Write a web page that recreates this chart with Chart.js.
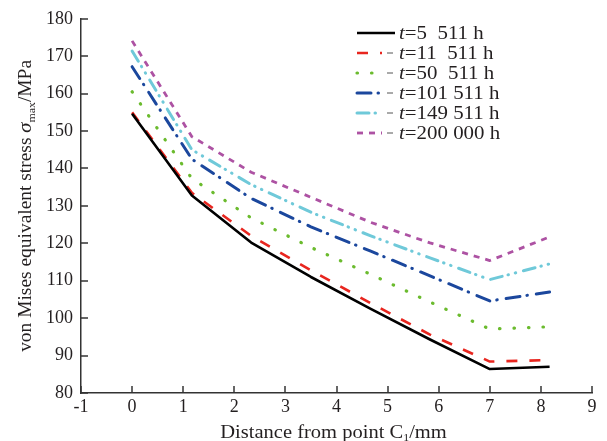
<!DOCTYPE html>
<html><head><meta charset="utf-8">
<script src="https://cdn.jsdelivr.net/npm/chart.js@4"></script>
<style>html,body{margin:0;padding:0;background:#fff;}#wrap{width:607px;height:441px;}</style>
</head><body><div id="wrap"><canvas id="c" width="607" height="441"></canvas></div>
<script>
// ---- data ----
const distances = [0, 1.17, 2.33, 3.5, 4.67, 5.83, 7, 8.17];
const seriesLabels = ["t=5  511 h", "t=11  511 h", "t=50  511 h", "t=101 511 h", "t=149 511 h", "t=200 000 h"];
const stress5511   = [154.6, 132.8, 120.2, 111.0, 102.5, 94.3, 86.4, 87.0];
const stress11511  = [155.0, 133.5, 122.0, 112.8, 104.0, 95.6, 88.4, 88.8];
const stress50511  = [160.5, 137.3, 126.8, 118.9, 111.7, 104.3, 97.1, 97.7];
const stress101511 = [167.2, 142.5, 132.0, 124.4, 117.9, 111.3, 104.6, 107.0];
const stress149511 = [171.4, 145.0, 135.7, 128.3, 122.0, 116.1, 110.3, 114.5];
const stress200000 = [174.1, 148.5, 139.0, 132.3, 125.6, 120.1, 115.4, 121.7];
const xTickMin = -1, xTickMax = 9, xTickStep = 1;
const yTickMin = 80, yTickMax = 180, yTickStep = 10;

const FONT = "'Liberation Serif','Times New Roman',serif";
const TXT = '#231f20';
const AX = '#333333';

const styles = [
  {color:'#000000', dash:[], width:2.6, cap:'butt'},
  {color:'#e8261f', dash:[11,12], width:2.6, cap:'butt'},
  {color:'#6bbb2e', dash:[0.5,14], width:3.2, cap:'round'},
  {color:'#1b479d', dash:[14,7,0.5,9], width:3, cap:'round'},
  {color:'#6fc9d9', dash:[12,6,0.5,7,0.5,8], width:3, cap:'round'},
  {color:'#ad52a3', dash:[6,6], width:2.8, cap:'butt'}
];
const allSeries = [stress5511, stress11511, stress50511, stress101511, stress149511, stress200000];

const datasets = allSeries.map((arr, i) => ({
  label: seriesLabels[i],
  data: arr.map((v, j) => ({x: distances[j], y: v})),
  borderColor: styles[i].color,
  borderDash: styles[i].dash,
  borderWidth: styles[i].width,
  borderCapStyle: styles[i].cap,
  borderJoinStyle: 'round',
  pointRadius: 0,
  tension: 0,
  fill: false
}));

function drawRuns(ctx, runs, x, y) {
  let cx = x;
  runs.forEach(r => {
    ctx.font = r.font;
    ctx.fillText(r.text, cx, y + (r.dy || 0));
    cx += ctx.measureText(r.text).width;
  });
}
function runsWidth(ctx, runs) {
  let w = 0;
  runs.forEach(r => { ctx.font = r.font; w += ctx.measureText(r.text).width; });
  return w;
}

const decor = {
  id: 'decor',
  afterDraw(chart) {
    const ctx = chart.ctx;
    const {left, right, top, bottom} = chart.chartArea;
    const xs = chart.scales.x, ys = chart.scales.y;
    ctx.save();
    // inward tick marks
    ctx.strokeStyle = AX; ctx.lineWidth = 1.5;
    xs.ticks.forEach(t => {
      const px = Math.round(xs.getPixelForValue(t.value));
      ctx.beginPath(); ctx.moveTo(px, bottom); ctx.lineTo(px, bottom - 7); ctx.stroke();
    });
    ys.ticks.forEach(t => {
      const py = Math.round(ys.getPixelForValue(t.value));
      ctx.beginPath(); ctx.moveTo(left, py); ctx.lineTo(left + 7, py); ctx.stroke();
    });
    ctx.fillStyle = TXT;
    ctx.textBaseline = 'alphabetic';
    // x title
    const xr = [
      {text:'Distance from point C', font:`19px ${FONT}`},
      {text:'1', font:`11px ${FONT}`, dy:3},
      {text:'/mm', font:`19px ${FONT}`}
    ];
    const xw = runsWidth(ctx, xr) * 1.08;
    ctx.save();
    ctx.translate((left + right) / 2 - 3 - xw / 2, 438);
    ctx.scale(1.08, 1);
    drawRuns(ctx, xr, 0, 0);
    ctx.restore();
    // y title
    const yr = [
      {text:'von Mises equivalent stress ', font:`18px ${FONT}`},
      {text:'σ', font:`italic 19px ${FONT}`},
      {text:'max', font:`11px ${FONT}`, dy:4},
      {text:'/MPa', font:`18px ${FONT}`}
    ];
    const yw = runsWidth(ctx, yr) * 1.08;
    ctx.save();
    ctx.translate(31, (top + bottom) / 2);
    ctx.rotate(-Math.PI / 2);
    ctx.scale(1.08, 1);
    drawRuns(ctx, yr, -yw / 2 / 1.08, 0);
    ctx.restore();
    ctx.restore();

    // legend
    ctx.save();
    chart.data.datasets.forEach((ds, i) => {
      const y = 33 + 20 * i;
      const st = styles[i];
      ctx.strokeStyle = st.color;
      ctx.lineWidth = st.width;
      ctx.lineCap = st.cap;
      ctx.setLineDash(st.dash);
      ctx.beginPath();
      if (st.dash.length === 0) { ctx.moveTo(357, y); ctx.lineTo(395, y); }
      else { ctx.moveTo(357, y); ctx.lineTo(382, y); }
      ctx.stroke();
      if (st.dash.length) {
        ctx.setLineDash([]);
        ctx.strokeStyle = '#555'; ctx.lineWidth = 1; ctx.lineCap = 'butt';
        ctx.beginPath(); ctx.moveTo(387, y); ctx.lineTo(393, y); ctx.stroke();
      }
      ctx.fillStyle = TXT;
      ctx.textBaseline = 'middle';
      const lab = ds.label;
      ctx.save();
      ctx.translate(399, y + 1);
      ctx.scale(1.1, 1);
      drawRuns(ctx, [
        {text: lab.charAt(0), font:`italic 19px ${FONT}`},
        {text: lab.slice(1), font:`19px ${FONT}`}
      ], 0, 0);
      ctx.restore();
    });
    ctx.restore();
  }
};

new Chart(document.getElementById('c'), {
  type: 'line',
  data: {datasets},
  options: {
    responsive: false,
    devicePixelRatio: 1,
    animation: false,
    layout: {padding: {left: 0, top: 16, right: 15, bottom: 0}},
    plugins: {legend: {display: false}, tooltip: {enabled: false}},
    scales: {
      x: {
        type: 'linear', min: xTickMin, max: xTickMax,
        ticks: {stepSize: xTickStep, color: TXT, font: {family: FONT, size: 18}, padding: 3},
        grid: {display: false, drawTicks: false},
        border: {display: true, color: AX, width: 1.5},
        afterFit(s) { s.height = 48; }
      },
      y: {
        type: 'linear', min: yTickMin, max: yTickMax,
        ticks: {stepSize: yTickStep, color: TXT, font: {family: FONT, size: 18}, padding: 8},
        grid: {display: false, drawTicks: false},
        border: {display: true, color: AX, width: 1.5},
        afterFit(s) { s.width = 81; }
      }
    }
  },
  plugins: [decor]
});
</script></body></html>
